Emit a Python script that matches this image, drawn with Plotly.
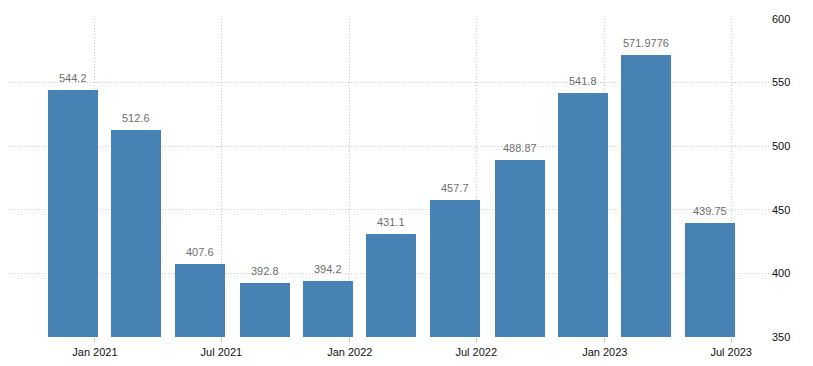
import plotly.graph_objects as go

dates = ["2020-12-01", "2021-03-01", "2021-06-01", "2021-09-01", "2021-12-01",
         "2022-03-01", "2022-06-01", "2022-09-01", "2022-12-01", "2023-03-01", "2023-06-01"]
values = [544.2, 512.6, 407.6, 392.8, 394.2, 431.1, 457.7, 488.87, 541.8, 571.9776, 439.75]
labels = ["544.2", "512.6", "407.6", "392.8", "394.2", "431.1", "457.7", "488.87", "541.8", "571.9776", "439.75"]
xtick_vals = ["2021-01-01", "2021-07-01", "2022-01-01", "2022-07-01", "2023-01-01", "2023-07-01"]
xtick_text = ["Jan 2021", "Jul 2021", "Jan 2022", "Jul 2022", "Jan 2023", "Jul 2023"]
ytick_vals = [350, 400, 450, 500, 550, 600]

DAY_MS = 86400000
bar_width = 71.5 * DAY_MS

fig = go.Figure(go.Bar(
    x=dates, y=values, width=[bar_width] * len(values),
    marker=dict(color="#4682b4", line=dict(width=0)),
    hoverinfo="x+y",
))

for d, v, t in zip(dates, values, labels):
    fig.add_annotation(
        x=d, y=v, text=t, showarrow=False, xanchor="center", yanchor="bottom",
        yshift=4, font=dict(family="Arial", size=11, color="#6e6e6e"),
    )

fig.update_layout(
    width=813, height=366,
    margin=dict(l=9, r=42, t=19, b=29),
    paper_bgcolor="white", plot_bgcolor="white",
    showlegend=False,
    font=dict(family="Arial", size=11, color="#111111"),
    bargap=0,
)
fig.update_xaxes(
    type="date", range=["2020-08-31", "2023-08-27"],
    tickvals=xtick_vals, ticktext=xtick_text,
    showgrid=True, gridcolor="#cccccc", griddash="1px,2px", gridwidth=1,
    ticks="outside", ticklen=5, tickcolor="#cccccc",
    showline=False, zeroline=False,
)
fig.update_yaxes(
    side="right", range=[350, 600], tickvals=ytick_vals,
    showgrid=True, gridcolor="#cccccc", griddash="1px,2px", gridwidth=1,
    ticks="",
    showline=False, zeroline=False,
)
fig.write_html("out.html", config={"displayModeBar": False},
               post_script="document.body.style.margin='0';")
